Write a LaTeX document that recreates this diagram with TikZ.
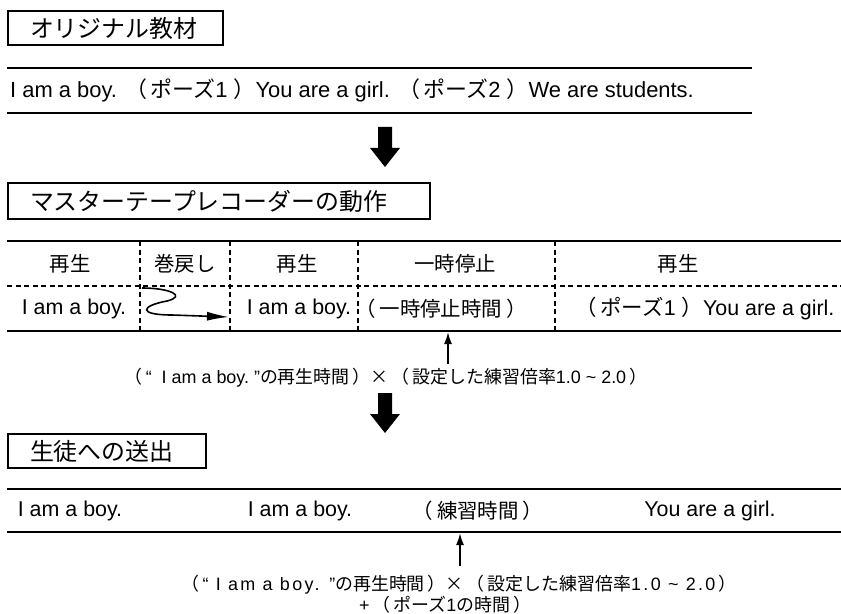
\documentclass[tikz,border=0pt]{standalone}
\usepackage{fontspec}
\setmainfont{Liberation Sans}
\newfontfamily\jpfont{Noto Sans CJK JP}
\newcommand{\J}[1]{{\jpfont #1}}
\newcommand{\LS}[1]{{\addfontfeature{LetterSpace=13}#1}}
\usetikzlibrary{arrows.meta}
\begin{document}
\begin{tikzpicture}[x=1bp,y=-1bp,
  rule/.style={line width=1.8bp},
  dashrule/.style={line width=1.3bp, dash pattern=on 5bp off 3.5bp},
  titlebox/.style={draw, line width=2bp, anchor=north west, align=left, inner xsep=22bp, inner ysep=0pt, font=\fontsize{24}{28}\selectfont\jpfont},
  txt/.style={inner sep=0pt, font=\fontsize{21.5}{24}\selectfont},
  jtxt/.style={inner sep=0pt, font=\fontsize{20.5}{24}\selectfont\jpfont},
  note/.style={inner sep=0pt, font=\fontsize{18}{21}\selectfont},
  ptr/.style={line width=1.8bp, -{Latex[length=12bp,width=8bp]}},
  wave/.style={line width=1.6bp, -{Latex[length=22bp,width=9bp]}}]
\useasboundingbox (0,0) rectangle (841,614);

% ---- section 1
\node[titlebox, text width=171bp, minimum height=34bp] (t1) at (7,10) {オリジナル教材};
\coordinate (a1) at (7,68); \coordinate (a2) at (752,68);
\draw[rule] (a1) -- (a2);
\node[txt, anchor=west, font=\fontsize{22}{24}\selectfont] (orig) at (10,90) {I am a boy. \J{（}\,\J{ポーズ}1\ \J{）}You are a girl. \J{（}\,\J{ポーズ}2\ \J{）}We are students.};
\coordinate (b1) at (7,113); \coordinate (b2) at (752,113);
\draw[rule] (b1) -- (b2);

% big arrow 1
\fill (378,127) -- (392,127) -- (392,148) -- (400,148) -- (385,167) -- (370,148) -- (378,148) -- cycle;

% ---- section 2
\node[titlebox, text width=378bp, minimum height=36bp] (t2) at (7,182) {マスターテープレコーダーの動作};
\coordinate (c1) at (7,241); \coordinate (c2) at (841,241);
\coordinate (d1) at (7,286); \coordinate (d2) at (841,286);
\coordinate (e1) at (7,331); \coordinate (e2) at (841,331);
\draw[rule] (c1) -- (c2);
\draw[dashrule] (d1) -- (d2);
\draw[rule] (e1) -- (e2);
\foreach \x [count=\i] in {140,230,358,555} {
  \coordinate (vt\i) at (\x,241); \coordinate (vb\i) at (\x,331);
  \draw[dashrule] (vt\i) -- (vb\i);
}
\node[jtxt] (h1) at (70,264) {再生};
\node[jtxt] (h2) at (185,264) {巻戻し};
\node[jtxt] (h3) at (297,264) {再生};
\node[jtxt] (h4) at (455,264) {一時停止};
\node[jtxt] (h5) at (678,264) {再生};

\node[txt] (r1) at (74,309) {I am a boy.};
\node[txt] (r2) at (299,309) {I am a boy.};
\node[jtxt] (r3) at (441,309) {（\hspace{4bp}一時停止時間\hspace{4bp}）};
\node[txt] (r4) at (705,309) {\J{（}\,\J{ポーズ}1\ \J{）}You are a girl.};

\coordinate (w0) at (142,288);
\coordinate (w1) at (229,317);
\draw[wave] (w0) .. controls (170,288) and (187,296) .. (167,301)
  .. controls (140,306) and (138,315) .. (172,315) -- (w1);

\coordinate (p1s) at (448,364); \coordinate (p1) at (448,332);
\draw[ptr] (p1s) -- (p1);
\node[note] (f1) at (386,378) {\J{（}\,“\ \ I am a boy.\ ”\J{の再生時間}\,\J{）×}\,\J{（}\,\J{設定した練習倍率}1.0 \textasciitilde{} 2.0\,\J{）}};

% big arrow 2
\fill (378,393) -- (392,393) -- (392,414) -- (400,414) -- (385,433) -- (370,414) -- (378,414) -- cycle;

% ---- section 3
\node[titlebox, text width=154bp, minimum height=34bp] (t3) at (7,433) {生徒への送出};
\coordinate (g1) at (7,489); \coordinate (g2) at (841,489);
\coordinate (k1) at (7,532); \coordinate (k2) at (841,532);
\draw[rule] (g1) -- (g2);
\draw[rule] (k1) -- (k2);
\node[txt] (s1) at (70,511) {I am a boy.};
\node[txt] (s2) at (300,511) {I am a boy.};
\node[jtxt] (s3) at (478,511) {（\hspace{4bp}練習時間\hspace{4bp}）};
\node[txt] (s4) at (710,511) {You are a girl.};

\coordinate (p2s) at (460,566); \coordinate (p2) at (460,533);
\draw[ptr] (p2s) -- (p2);
\node[note] (f2) at (459,585) {\J{（}\,\LS{“ I am a boy. ”}\J{の再生時間}\,\J{）×}\,\J{（}\,\J{設定した練習倍率}\LS{1.0 \textasciitilde{} 2.0}\,\J{）}};
\node[note] (f3) at (445,605) {+\,\J{（}\,\J{ポーズ}1\J{の時間}\,\J{）}};
\end{tikzpicture}
\end{document}
